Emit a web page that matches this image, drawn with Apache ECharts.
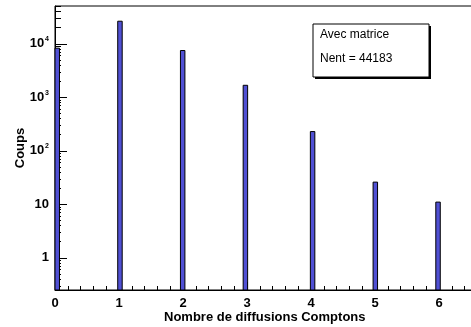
<!DOCTYPE html>
<html lang="fr">
<head>
<meta charset="UTF-8">
<title>Nombre de diffusions Comptons</title>
<script src="https://cdn.jsdelivr.net/npm/echarts@6/dist/echarts.min.js"></script>
<style>
  html, body { margin: 0; padding: 0; background: #fff; }
  #main { width: 471px; height: 327px; }
</style>
</head>
<body>
<div id="main"></div>
<script type="text/javascript">
    var nbDiffusions = [0, 1, 2, 3, 4, 5, 6];
    var coups = [8300, 26500, 7500, 1680, 229, 26, 11];
    var nEntries = 44183;
    var yMajorTicks = [1, 10, 100, 1000, 10000];
    var xLabels = ['0', '1', '2', '3', '4', '5', '6', '7'];

    // binning de l'histogramme : 100 bins entre 0 et 7
    var xMin = 0, xMax = 7, nBins = 100;
    var binWidth = (xMax - xMin) / nBins;
    var yMin = 0.25, yMax = 51000;

    var binData = [];
    for (var i = 0; i < nbDiffusions.length; i++) {
        var lo = Math.floor((nbDiffusions[i] - xMin) / binWidth) * binWidth + xMin;
        binData.push([lo, lo + binWidth, coups[i]]);
    }

    // ticks mineurs log (2..9 par decade)
    var yMinorTicks = [];
    for (var e = -1; e <= 4; e++) {
        for (var m = 2; m <= 9; m++) {
            var v = m * Math.pow(10, e);
            if (v > yMin && v < yMax) yMinorTicks.push(v);
        }
    }

    var myChart = echarts.init(document.getElementById('main'));
    var font = 'Liberation Sans, Arial, Helvetica, sans-serif';

    var option = {
        animation: false,
        grid: {
            left: 55, top: 6, width: 448, height: 284,
            outerBoundsMode: 'none',
            show: true, borderColor: '#000', borderWidth: 1, backgroundColor: '#fff'
        },
        xAxis: {
            type: 'value', min: xMin, max: xMax, interval: 1,
            axisLine: { lineStyle: { color: '#000', width: 1 } },
            axisTick: { inside: true, length: 8, lineStyle: { color: '#000' } },
            minorTick: { show: true, splitNumber: 5, length: 4, lineStyle: { color: '#000' } },
            splitLine: { show: false },
            axisLabel: {
                margin: 7, color: '#000', fontFamily: font, fontWeight: 'bold', fontSize: 13,
                formatter: function (v) { return xLabels[Math.round(v)]; }
            }
        },
        yAxis: [{
            type: 'log', logBase: 10, min: yMin, max: yMax,
            axisLine: { lineStyle: { color: '#000', width: 1 } },
            axisTick: { inside: true, length: 12, customValues: yMajorTicks, lineStyle: { color: '#000' } },
            splitLine: { show: false },
            name: 'Coups', nameLocation: 'middle', nameGap: 28, nameMoveOverlap: false,
            nameTextStyle: { color: '#000', fontFamily: font, fontWeight: 'bold', fontSize: 13 },
            axisLabel: {
                customValues: yMajorTicks,
                margin: 6, color: '#000', fontFamily: font, fontWeight: 'bold', fontSize: 13,
                formatter: function (v) {
                    var p = Math.round(Math.log(v) / Math.LN10);
                    if (p <= 1) return '{b|' + Math.round(v) + '}';
                    return '{b|10}{s|' + p + '}';
                },
                rich: {
                    b: { fontFamily: font, fontWeight: 'bold', fontSize: 13, color: '#000' },
                    s: { fontFamily: font, fontWeight: 'bold', fontSize: 7, color: '#000', verticalAlign: 'top', padding: [0, 0, 9, 1] }
                }
            }
        }, {
            type: 'log', logBase: 10, min: yMin, max: yMax, position: 'left',
            axisLine: { show: false },
            axisTick: { inside: true, length: 6, customValues: yMinorTicks, lineStyle: { color: '#000' } },
            axisLabel: { show: false },
            splitLine: { show: false }
        }],
        graphic: [{
            type: 'text', left: 164, top: 311,
            style: { text: 'Nombre de diffusions Comptons', fill: '#000', font: 'bold 13px ' + font }
        }, {
            type: 'rect', shape: { x: 315, y: 26, width: 116, height: 53 },
            style: { fill: '#000' }
        }, {
            type: 'rect', shape: { x: 313, y: 24, width: 116, height: 53 },
            style: { fill: '#fff', stroke: '#000', lineWidth: 1 }
        }, {
            type: 'text', left: 320, top: 29,
            style: { text: 'Avec matrice', fill: '#000', font: '12px ' + font }
        }, {
            type: 'text', left: 320, top: 53,
            style: { text: 'Nent = ' + nEntries, fill: '#000', font: '12px ' + font }
        }],
        series: [{
            type: 'custom',
            data: binData,
            clip: false,
            encode: { x: 0, y: 2 },
            renderItem: function (params, api) {
                var p0 = api.coord([api.value(0), api.value(2)]);
                var p1 = api.coord([api.value(1), yMin]);
                return {
                    type: 'rect',
                    shape: { x: p0[0], y: p0[1], width: p1[0] - p0[0], height: p1[1] - p0[1] },
                    style: { fill: '#5050d4', stroke: '#000', lineWidth: 1 }
                };
            }
        }]
    };
    myChart.setOption(option);
</script>
</body>
</html>
